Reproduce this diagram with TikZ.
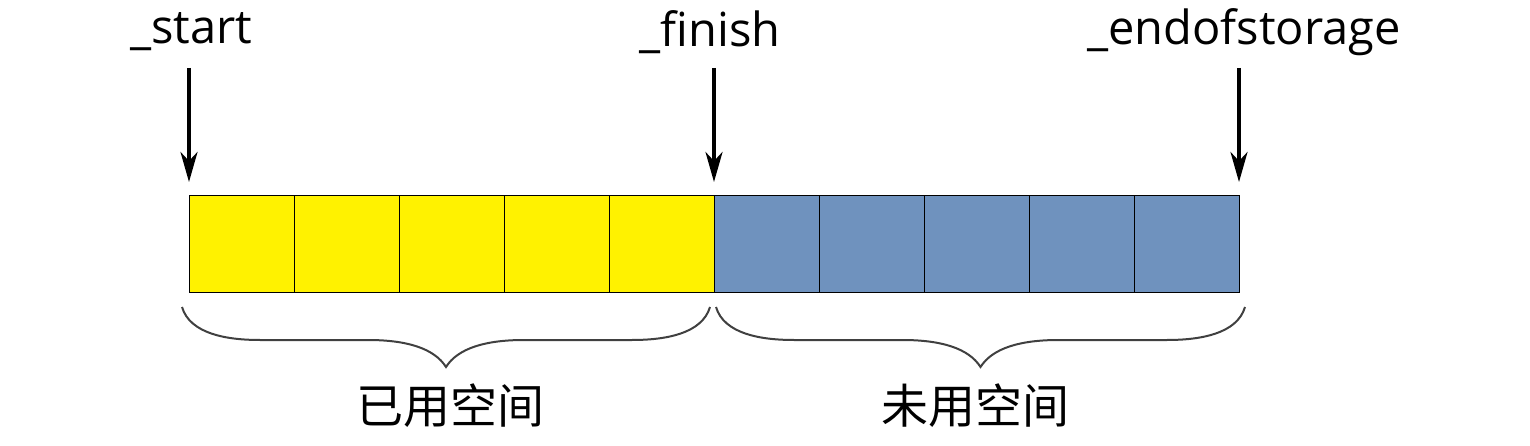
\documentclass[tikz,border=0pt]{standalone}
\usepackage{fontspec}
\setmainfont{Open Sans}
\newfontfamily\cjk{Noto Sans CJK SC}
\usetikzlibrary{arrows.meta,positioning}
\definecolor{usedcol}{RGB}{255,242,0}
\definecolor{freecol}{RGB}{111,146,190}
\tikzset{
  cell/.style={draw,line width=1pt,minimum width=105pt,minimum height=96pt,inner sep=0pt,outer sep=0pt},
  ptr/.style={line width=3.5pt,-{Stealth[length=30pt,width=17pt,inset=9pt]}},
  lbl/.style={font=\fontsize{47}{50}\selectfont,inner sep=0pt},
  zone/.style={font=\cjk\fontsize{47}{50}\selectfont,inner sep=0pt},
  brc/.style={line width=2pt,black!75}
}
% curly brace under the cells, from x=#1 to x=#2
\newcommand{\membrace}[2]{%
  \pgfmathsetmacro{\bm}{(#1+#2)/2}
  \draw[brc] (#1,307) .. controls (#1+8,334) and (#1+45,340) .. (#1+78,340)
    -- (\bm-78,340) .. controls (\bm-40,340) and (\bm-12,348) .. (\bm,367)
    .. controls (\bm+12,348) and (\bm+40,340) .. (\bm+78,340)
    -- (#2-78,340) .. controls (#2-45,340) and (#2-8,334) .. (#2,307);
}
\begin{document}
\begin{tikzpicture}[x=1pt,y=-1pt]
  \useasboundingbox (0,0) rectangle (1530,446);
  % cells
  \node[cell,fill=usedcol,anchor=north west] (c1) at (189,196) {};
  \foreach \i [remember=\i as \j (initially 1)] in {2,...,5}
    \node[cell,fill=usedcol,right=0pt of c\j] (c\i) {};
  \foreach \i [remember=\i as \j (initially 5)] in {6,...,10}
    \node[cell,fill=freecol,right=0pt of c\j] (c\i) {};
  % pointer labels
  \node[lbl] (lstart) at (191,32) {\_start};
  \node[lbl] (lfinish) at (710,32) {\_finish};
  \node[lbl] (lend) at (1244,32) {\_endofstorage};
  \coordinate (pstart) at ([yshift=14pt]c1.north west);
  \coordinate (pfinish) at ([yshift=14pt]c5.north east);
  \coordinate (pend) at ([yshift=14pt]c10.north east);
  \draw[ptr] (pstart |- 0,68) -- (pstart);
  \draw[ptr] (pfinish |- 0,68) -- (pfinish);
  \draw[ptr] (pend |- 0,68) -- (pend);
  % braces
  \membrace{182}{710}
  \membrace{716}{1245}
  \node[zone] (used) at (450,406) {已用空间};
  \node[zone] (free) at (975,406) {未用空间};
\end{tikzpicture}
\end{document}
